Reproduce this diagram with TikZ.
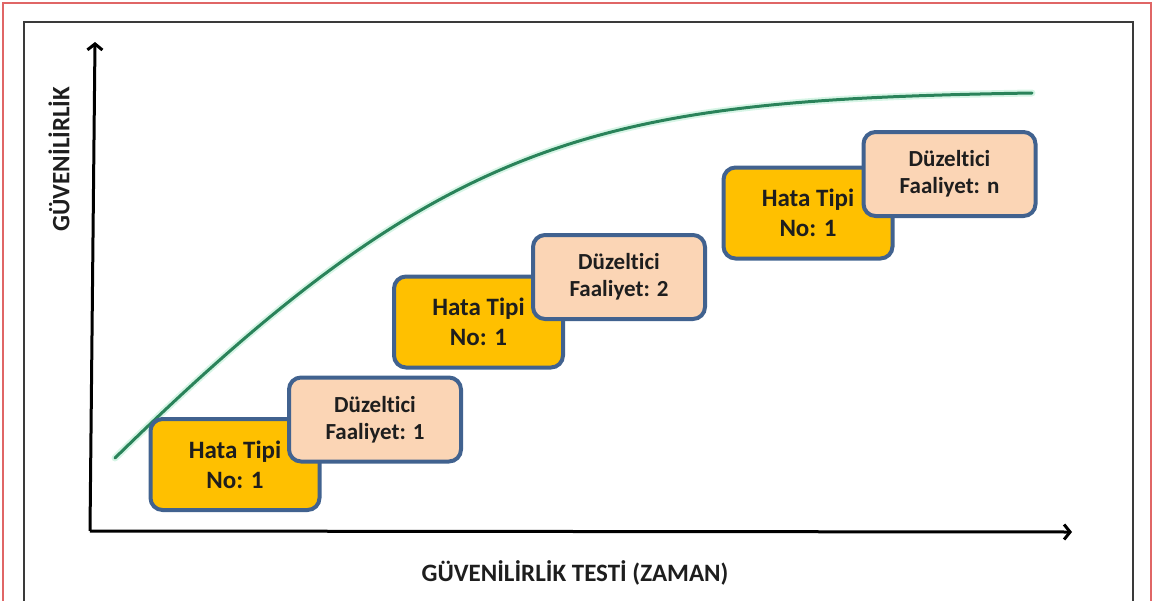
\documentclass[tikz,border=0pt]{standalone}
\usepackage{fontspec}
\setmainfont{Carlito}[RawFeature={-liga;-clig}]
\usetikzlibrary{arrows.meta}
\definecolor{gold}{HTML}{FFC000}
\definecolor{peach}{HTML}{FBD5B5}
\definecolor{bord}{HTML}{41628F}
\definecolor{curvegreen}{HTML}{2A835A}
\definecolor{glowgreen}{HTML}{BDEFD6}
\definecolor{redframe}{HTML}{E06666}
\definecolor{frame}{HTML}{3A3A3A}
\definecolor{txt}{HTML}{1E1E1E}
\begin{document}
\begin{tikzpicture}[x=1pt,y=-1pt,
  hata/.style={draw=bord, line width=4pt, fill=gold, rounded corners=12pt,
    minimum width=169pt, minimum height=91pt, align=center, inner sep=0pt,
    text=txt, font=\bfseries\fontsize{25}{30}\selectfont},
  duz/.style={draw=bord, line width=4pt, fill=peach, rounded corners=12pt,
    minimum width=172pt, minimum height=84pt, align=center, inner sep=0pt,
    text=txt, font=\bfseries\fontsize{23}{27}\selectfont},
  axis/.style={line width=3pt, black, -{Straight Barb[length=6pt,width=15pt]}},
  lab/.style={text=txt, font=\bfseries\fontsize{25}{28}\selectfont, inner sep=0pt},
  glow/.style={glowgreen, line width=7pt, opacity=0.6, line cap=round},
  curve/.style={curvegreen, line width=3pt, line cap=round}]
\useasboundingbox (0,0) rectangle (1154,600);
% outer frames
\draw[redframe, line width=1.5pt] (3,3) rectangle (1151,640);
\draw[frame, line width=2pt] (24,22) rectangle (1133,640);
% axes
\coordinate (O) at (90,531);
\coordinate (Ytip) at (95,42);
\coordinate (Xtip) at (1072,532);
\draw[axis] (O) -- (Ytip);
\draw[axis] (O) -- (Xtip);
% curve
\coordinate (cs) at (115,458);
\coordinate (ce) at (1032,93);
\draw[glow] (cs) .. controls (450,130) and (600,100) .. (ce);
\draw[curve] (cs) .. controls (450,130) and (600,100) .. (ce);
% boxes
\node[hata] (h1) at (235,464.5) {Hata Tipi\\No: 1};
\node[duz] (d1) at (375,419.5) {Düzeltici\\Faaliyet: 1};
\node[hata] (h2) at (478.5,322) {Hata Tipi\\No: 1};
\node[duz] (d2) at (619,277) {Düzeltici\\Faaliyet: 2};
\node[hata] (h3) at (808,213) {Hata Tipi\\No: 1};
\node[duz] (d3) at (949.5,174) {Düzeltici\\Faaliyet: n};
% labels
\node[lab, rotate=90] (ylab) at (59,159) {GÜVENİLİRLİK};
\node[lab] (xlab) at (575,573) {GÜVENİLİRLİK TESTİ (ZAMAN)};
\end{tikzpicture}
\end{document}
